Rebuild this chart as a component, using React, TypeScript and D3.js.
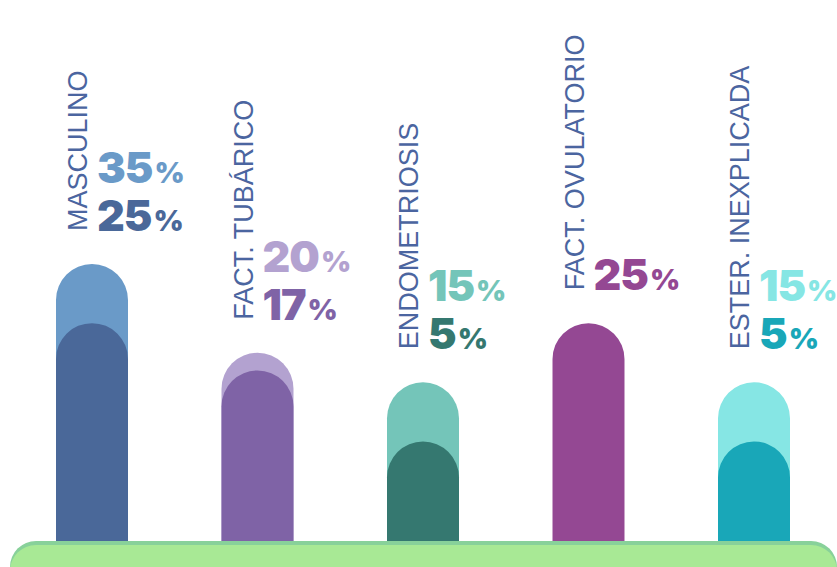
import React from "react";
import * as d3 from "d3";

const categories = ["MASCULINO", "FACT. TUBÁRICO", "ENDOMETRIOSIS", "FACT. OVULATORIO", "ESTER. INEXPLICADA"];
const backValues: (number | null)[] = [35, 20, 15, null, 15];
const frontValues = [25, 17, 5, 25, 5];
const backColors = ["#6a9ac8", "#b3a2d0", "#74c5b9", "#944893", "#86e6e4"];
const frontColors = ["#4a6899", "#7f63a6", "#357870", "#944893", "#19a7b8"];

const W = 837;
const H = 567;

export default function App() {
  const x = d3.scaleBand<string>().domain(categories).range([56, 790]).paddingInner(0.565).paddingOuter(0);
  const y = d3.scaleLinear().domain([0, 35]).range([471, 264]);
  const bw = x.bandwidth();
  const r = bw / 2;
  const bottom = 560;

  const barPath = (x0: number, yTop: number) => {
    const p = d3.path();
    p.moveTo(x0, bottom);
    p.lineTo(x0, yTop + r);
    p.arc(x0 + r, yTop + r, r, Math.PI, 0);
    p.lineTo(x0 + bw, bottom);
    p.closePath();
    return p.toString();
  };

  return (
    <svg width={W} height={H} style={{ position: "absolute", left: 0, top: 0, background: "#fff" }}>
      {categories.map((c, i) => {
        const x0 = x(c)!;
        const b = backValues[i];
        const f = frontValues[i];
        const topVal = Math.max(b ?? 0, f);
        const labelBottom = y(topVal) - 33;
        const labelX = x0 + 31;
        const pctX = x0 + 41;
        return (
          <g key={c}>
            {b !== null && <path d={barPath(x0, y(b))} fill={backColors[i]} />}
            <path d={barPath(x0, y(f))} fill={frontColors[i]} />
            <text
              transform={`translate(${labelX},${labelBottom}) rotate(-90)`}
              fontFamily="Liberation Sans, Arial, sans-serif"
              fontSize={27}
              fill="#4b65a0"
            >
              {c}
            </text>
            {b !== null && (
              <text x={pctX} y={labelBottom - 48} fontFamily="Inter, sans-serif" fontWeight={900} fill={backColors[i]} letterSpacing={-1}>
                <tspan fontSize={43}>{b}</tspan>
                <tspan fontSize={29} dx={2}>%</tspan>
              </text>
            )}
            <text x={pctX} y={labelBottom} fontFamily="Inter, sans-serif" fontWeight={900} fill={frontColors[i]} letterSpacing={-1}>
              <tspan fontSize={43}>{f}</tspan>
              <tspan fontSize={29} dx={2}>%</tspan>
            </text>
          </g>
        );
      })}
      <rect x={10} y={541} width={827} height={60} rx={26} ry={26} fill="#88d19a" />
      <rect x={10} y={545} width={827} height={60} rx={26} ry={26} fill="#a8e995" />
    </svg>
  );
}
